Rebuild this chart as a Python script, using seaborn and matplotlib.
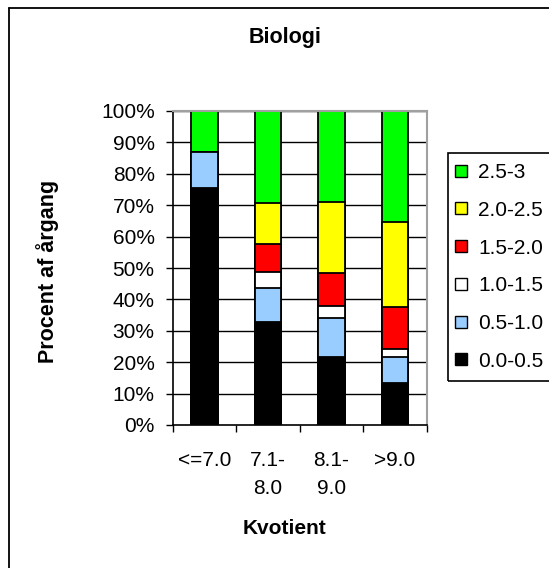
import numpy as np
import pandas as pd
import matplotlib
matplotlib.use("Agg")
import matplotlib.pyplot as plt
import seaborn as sns
from matplotlib.ticker import PercentFormatter, FixedLocator
from matplotlib.lines import Line2D
from matplotlib.patches import Rectangle

categories = ["<=7.0", "7.1-\n8.0", "8.1-\n9.0", ">9.0"]
segments = ["0.0-0.5", "0.5-1.0", "1.0-1.5", "1.5-2.0", "2.0-2.5", "2.5-3"]
seg_0_05 = [75.4, 32.7, 21.7, 13.5]
seg_05_10 = [11.6, 11.0, 12.4, 8.1]
seg_10_15 = [0.0, 5.0, 3.8, 2.5]
seg_15_20 = [0.0, 8.9, 10.4, 13.4]
seg_20_25 = [0.0, 13.0, 22.8, 27.2]
seg_25_3 = [13.0, 29.4, 28.9, 35.3]
colors = ["#000000", "#99CCFF", "#FFFFFF", "#FF0000", "#FFFF00", "#00FF00"]

sns.set_theme(style="white")
plt.rcParams["font.family"] = ["Liberation Sans", "DejaVu Sans"]
plt.rcParams["text.color"] = "black"
plt.rcParams["xtick.color"] = "black"
plt.rcParams["ytick.color"] = "black"
plt.rcParams["axes.labelcolor"] = "black"

series = [seg_0_05, seg_05_10, seg_10_15, seg_15_20, seg_20_25, seg_25_3]
cum = np.cumsum(np.array(series), axis=0)

W, H = 549, 568
fig = plt.figure(figsize=(W / 100, H / 100), dpi=100)
ax = fig.add_axes([172.7 / W, 1 - 425 / H, (426.7 - 172.7) / W, (425 - 111) / H])

# grid lines first
for v in range(10, 101, 10):
    ax.axhline(v, color="black", lw=1.0, zorder=0)

# draw cumulative bars from top down so they overlap into stacks
for i in range(len(segments) - 1, -1, -1):
    df = pd.DataFrame({"cat": categories, "val": cum[i]})
    sns.barplot(data=df, x="cat", y="val", color=colors[i], width=0.42,
                edgecolor="black", linewidth=1.3, saturation=1, ax=ax, zorder=2)

ax.set_xlim(-0.5, 3.5)
ax.set_ylim(0, 100)
ax.yaxis.set_major_locator(FixedLocator(range(0, 101, 10)))
ax.yaxis.set_major_formatter(PercentFormatter(100, decimals=0))
ax.set_xlabel("")
ax.set_ylabel("")
ax.set_xticks(range(4))
ax.set_xticklabels(categories, fontsize=15, linespacing=1.6, color="black")
ax.tick_params(axis="x", length=0, pad=19)
ax.tick_params(axis="y", labelsize=15, length=5, width=1, color="black",
               labelcolor="black", direction="out", left=True, pad=8)
# category boundary ticks on x
ax.set_xticks([-0.5, 0.5, 1.5, 2.5, 3.5], minor=True)
ax.tick_params(axis="x", which="minor", length=5, width=1, color="black",
               direction="out", bottom=True)
for lab in ax.get_xticklabels():
    lab.set_verticalalignment("top")

for s in ["left", "bottom"]:
    ax.spines[s].set_color("black")
    ax.spines[s].set_linewidth(1.2)
for s in ["top", "right"]:
    ax.spines[s].set_color("#A0A0A0")
    ax.spines[s].set_linewidth(1.5)

fig.text(285 / W, 1 - 38 / H, "Biologi", ha="center", va="center",
         fontsize=15.5, fontweight="bold", color="black")
fig.text(284 / W, 1 - 529 / H, "Kvotient", ha="center", va="center",
         fontsize=15, fontweight="bold", color="black")
fig.text(48 / W, 1 - 271 / H, "Procent af årgang", ha="center", va="center",
         rotation=90, fontsize=15.5, fontweight="bold", color="black")

# outer chart frame (left and top visible)
fig.add_artist(Line2D([8.5 / W, 8.5 / W], [0, 1 - 7.5 / H], color="black", lw=1.3))
fig.add_artist(Line2D([8.5 / W, 1], [1 - 7.5 / H, 1 - 7.5 / H], color="black", lw=1.3))

# legend box
fig.add_artist(Rectangle((448 / W, 1 - 381 / H), 120 / W, (381 - 153) / H,
                         transform=fig.transFigure, fill=False, edgecolor="black",
                         lw=1.2, clip_on=False))
handles = [Line2D([], [], marker="s", linestyle="none", markersize=8.5,
                  markerfacecolor=colors[i], markeredgecolor="black",
                  markeredgewidth=1.0) for i in range(len(segments) - 1, -1, -1)]
labels = [segments[i] for i in range(len(segments) - 1, -1, -1)]
leg = fig.legend(handles, labels, loc="upper left",
                 bbox_to_anchor=(453 / W, 1 - 163 / H), frameon=False, fontsize=15,
                 handlelength=0.8, handletextpad=0.4, labelspacing=0.9,
                 borderpad=0, borderaxespad=0)
for t in leg.get_texts():
    t.set_color("black")

fig.savefig("out.png", dpi=100)
